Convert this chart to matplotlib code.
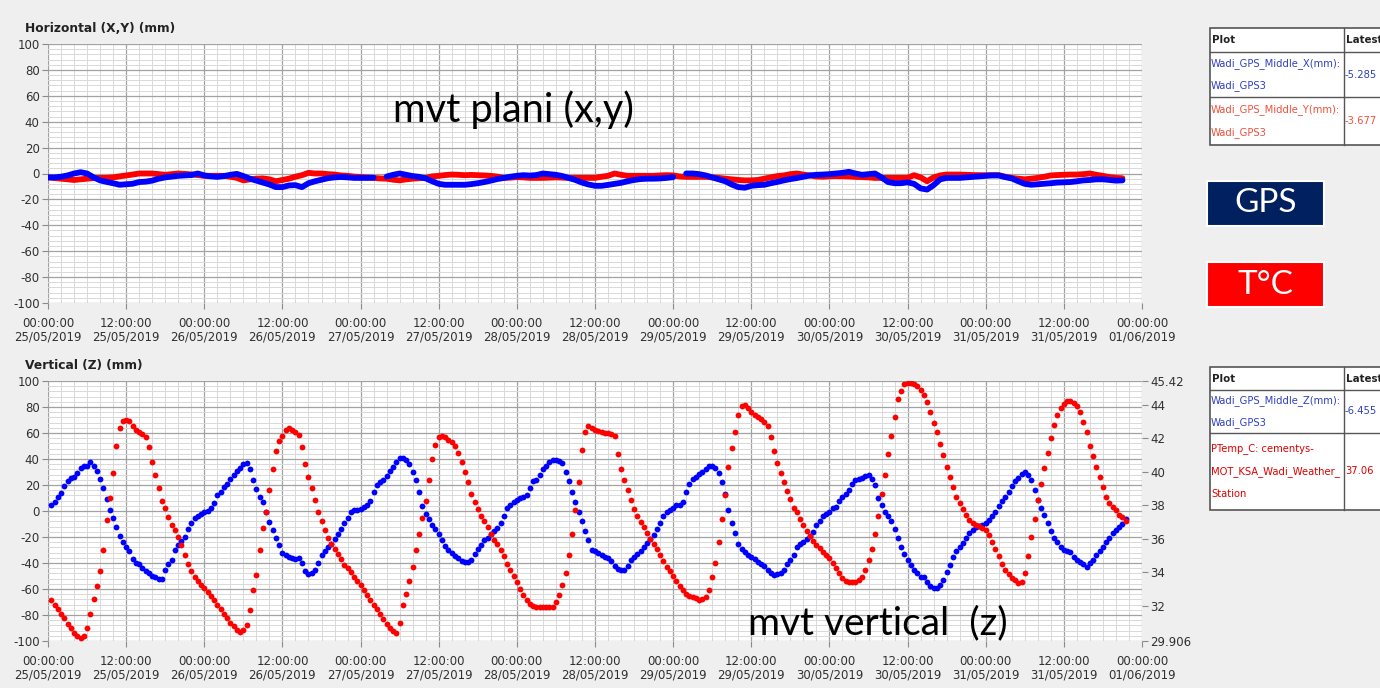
import numpy as np
import pandas as pd
import matplotlib
matplotlib.use('Agg')
import matplotlib.pyplot as plt
import matplotlib.dates as mdates
from matplotlib.ticker import MultipleLocator
from matplotlib.patches import Rectangle
from matplotlib.lines import Line2D

plt.rcParams['axes.unicode_minus'] = False
plt.rcParams['font.family'] = ['DejaVu Sans']

# ---------------- data ----------------
start_time = '2019-05-25 00:00'
end_time = '2019-06-01 00:00'

# Horizontal movement, hourly samples from 25/05 00:00 (mm)
x_mm = [
    -3, -3, -2.5, -1.5, 0, 1, 0, -3, -5.3, -6.5, -7.5, -8.7,
    -8.3, -7.9, -6.6, -6.3, -5.5, -4, -3, -2.4, -1.8, -1.5, -1.2, 0,
    -1.5, -2.2, -2.6, -2, -1, -0.3, -2, -4, -5.5, -7, -8.5, -10.5,
    -10.5, -9.2, -9, -10.5, -7.5, -6, -4.8, -3.6, -3, -2.7, -3, -3.4,
    -3.4, -3.4, -3.2, np.nan, -2.4, -1, 0, -1, -2, -2.6, -3.8, -6,
    -8, -8.7, -8.7, -8.7, -8.7, -8.2, -7.5, -6.6, -5.5, -4.3, -3.4, -2.5,
    -1.8, -1.3, -1.6, -1.2, 0, -0.5, -1, -2, -3.5, -5, -7, -8.5,
    -9.5, -9.5, -8.8, -8, -7.2, -6, -5, -4.3, -4, -4, -3.8, -3.4,
    -2.8, np.nan, 0, 0, -0.5, -1.5, -3, -4.5, -6, -8.5, -10.5, -11,
    -9.5, -9, -8.7, -7.5, -6.5, -5.3, -4.3, -3.5, -2.5, -1.5, -1, -0.8,
    -0.5, 0, 0.5, 1.3, 0, -1, -0.5, 0, -3, -6.6, -7.5, -7.5,
    -6.8, -8, -11.5, -12.4, -9, -4.5, -3.4, -3.4, -3.4, -3, -2.6, -2.2,
    -1.8, -1.5, -1.5, -2.8, -3.8, -6, -8, -8.7, -8.3, -7.9, -7.5, -7,
    -6.8, -6.6, -6, -5.3, -5, -4.5, -4.5, -5, -5.5, -5.3,
]
y_mm = [
    -3, -3.5, -4, -4.5, -5, -4.5, -4, -3.5, -3.4, -3.4, -3, -2.2,
    -1.5, -0.8, 0, 0, 0, -0.5, -1, -0.5, 0, -0.3, -0.7, -1.2,
    -1.8, -1.8, -1.8, -1.8, -2.5, -3.4, -5.3, -4.5, -4, -3.8, -4.5, -6,
    -5, -4, -2.5, -1.3, 0.5, 0, 0, -0.5, -0.8, -1.5, -1.8, -2.4,
    -2.7, -3, -3.4, -3.8, -4, -4.8, -5.3, -4.5, -4, -3.6, -3.4, -2.2,
    -1.8, -1.2, -0.8, -1, -1.3, -1.1, -1.3, -1.5, -1.8, -2.4, -3.4, -3.2,
    -2.8, -3, -3.4, -3.4, -3.4, -3.2, -3, -3.2, -3.4, -3.4, -3.4, -3.4,
    -3.4, -2.5, -1.8, 0, -1, -1.8, -1.8, -1.8, -1.8, -1.8, -1.5, -1.3,
    -1.5, -2.3, -2.6, -2.6, -2.6, -2.6, -3, -3.4, -4, -4.5, -5, -5.3,
    -5.3, -5, -4, -3, -2, -1.5, -0.5, 0, -0.8, -1.5, -2.3, -2.5,
    -2.2, -2, -2.1, -2.3, -2.6, -2.8, -3, -3.4, -3.4, -3.4, -3.4, -3.4,
    -3.4, -1.3, -3, -6, -3, -1.5, -0.8, -0.8, -0.8, -1, -1.2, -1.3,
    -1.3, -1.3, -1.3, -2.5, -3.4, -4, -4.5, -4, -3.4, -2.5, -1.5, -1.2,
    -1, -0.8, -0.8, -0.5, 0, -1, -1.8, -2.8, -3.4, -3.7,
]

# Vertical movement, 30-min samples from 25/05 00:30 (mm)
z_mm = [
    5, 7, 10.5, 14, 19, 23, 25.5, 26.5, 29, 33,
    34.5, 35, 38, 34.5, 31, 25, 18, 9, 1, -5.5,
    -12, -19, -24, -28, -31, -37, -40, -41, -44, -46,
    -48, -50, -51, -52, -52, -45, -41, -38, -30, -26,
    -23, -20, -14, -9.5, -5.5, -3.5, -2, -1, 0, 2.5,
    6, 12, 15, 18.5, 20.5, 25, 27.5, 30.5, 33, 36,
    37, 32, 24, 17, 11, 7, -1, -8.5, -14.5, -21,
    -26, -32, -34, -35, -36, -37, -36, -40, -46, -48.5,
    -47.5, -45, -40, -34, -30.5, -28, -25, -21.5, -18, -14,
    -9.5, -5, -1, 0.5, 0.5, 1.5, 3, 4.5, 8, 15,
    20, 22, 23.5, 27, 30.5, 34, 38, 40.5, 41, 39,
    36, 30, 24, 15, 4, -2, -6, -11, -13.5, -18,
    -22, -27, -30, -32, -34.5, -36.5, -38.5, -39, -39, -37.5,
    -33, -29, -26, -22.5, -20.5, -17.5, -15.5, -13, -9, -4,
    2, 5, 7, 8.5, 10, 10.5, 12, 18, 23, 24,
    28, 32, 35, 37.5, 39, 39, 38.5, 37, 30, 23,
    15, 7, -1, -8, -15.5, -22, -30, -31, -32, -33.5,
    -35, -36.5, -38.5, -42, -44.5, -45.5, -45, -42.5, -38, -35.5,
    -33, -30.5, -28, -24.5, -21.5, -18.5, -14, -9, -4, -1,
    0.5, 2.5, 4.5, 4.5, 7, 15, 21, 24.5, 26.5, 28.5,
    30, 32, 34.5, 34.5, 33, 29.5, 22, 13, 1, -9,
    -17, -25.5, -29.5, -31.5, -33.5, -35.5, -37, -39, -41, -42,
    -45, -47.5, -49, -48.5, -47.5, -45, -41, -38, -33.5, -28,
    -25.5, -24, -21.5, -19.5, -16, -11, -8, -4, -2, -0.5,
    2, 3, 7.5, 11, 13, 16.5, 20.5, 23.5, 24.5, 25.5,
    27, 27.5, 25, 20, 10, 5, -0.5, -3.5, -8, -13.5,
    -21, -28, -33, -37.5, -41.5, -45, -48, -50.5, -51, -54.5,
    -57.5, -59, -59.5, -57, -53, -47, -41.5, -35, -30.5, -28,
    -24.5, -21, -17, -14.5, -12, -11.5, -10.7, -9.5, -7, -4,
    -1, 3.5, 7.5, 11, 15, 19, 23, 25.5, 28.5, 30,
    28, 24, 16, 8.5, 2, -3, -9, -15.5, -20.5, -24,
    -27.5, -30, -30.5, -31.5, -35.5, -37.5, -39.5, -41, -43, -40,
    -37.5, -33.5, -31, -28, -24, -20.5, -17, -14.5, -12.5, -10,
    -6.5,
]

# Air temperature, 30-min samples from 25/05 00:30 (deg C)
temp_c = [
    32.35, 32.08, 31.81, 31.54, 31.26, 30.95, 30.68, 30.37, 30.18, 30.10,
    30.22, 30.68, 31.54, 32.43, 33.16, 34.09, 35.34, 37.12, 38.44, 39.91,
    41.54, 42.63, 43.02, 43.09, 43.02, 42.74, 42.51, 42.36, 42.24, 42.08,
    41.46, 40.57, 39.80, 39.02, 38.28, 37.82, 37.28, 36.85, 36.50, 36.11,
    35.65, 35.06, 34.48, 34.06, 33.75, 33.47, 33.24, 33.09, 32.85, 32.62,
    32.35, 32.08, 31.81, 31.54, 31.30, 30.99, 30.80, 30.57, 30.45, 30.57,
    30.88, 31.77, 32.93, 33.86, 35.34, 36.62, 37.62, 38.90, 40.18, 41.23,
    41.85, 42.16, 42.47, 42.59, 42.51, 42.40, 42.20, 41.46, 40.46, 39.68,
    39.02, 38.32, 37.62, 37.08, 36.54, 36.03, 35.69, 35.38, 35.10, 34.79,
    34.44, 34.25, 34.02, 33.75, 33.51, 33.24, 32.97, 32.66, 32.35, 32.08,
    31.81, 31.50, 31.19, 30.91, 30.68, 30.53, 30.37, 30.99, 32.04, 32.70,
    33.47, 34.33, 35.34, 36.27, 37.24, 38.28, 39.52, 40.77, 41.62, 42.05,
    42.16, 42.05, 41.89, 41.77, 41.54, 41.15, 40.61, 39.99, 39.37, 38.67,
    38.21, 37.78, 37.39, 37.08, 36.69, 36.31, 35.96, 35.69, 35.34, 34.95,
    34.52, 34.13, 33.78, 33.40, 33.01, 32.66, 32.35, 32.12, 31.99, 31.96,
    31.96, 31.96, 31.96, 31.92, 31.96, 32.23, 32.66, 33.24, 33.94, 35.03,
    36.27, 37.74, 39.37, 41.31, 42.40, 42.74, 42.63, 42.51, 42.43, 42.40,
    42.32, 42.29, 42.28, 42.16, 41.08, 40.15, 39.52, 38.90, 38.32, 37.78,
    37.35, 37.00, 36.69, 36.38, 36.00, 35.69, 35.38, 35.06, 34.68, 34.33,
    34.06, 33.78, 33.47, 33.20, 32.93, 32.70, 32.57, 32.52, 32.45, 32.37,
    32.39, 32.54, 32.93, 33.71, 34.56, 35.80, 37.20, 38.63, 40.26, 41.43,
    42.40, 43.40, 43.91, 43.99, 43.79, 43.56, 43.40, 43.30, 43.17, 42.98,
    42.71, 42.08, 41.23, 40.53, 39.95, 39.37, 38.83, 38.36, 37.82, 37.62,
    37.20, 36.81, 36.46, 36.15, 35.88, 35.61, 35.45, 35.22, 35.03, 34.83,
    34.56, 34.25, 33.94, 33.67, 33.51, 33.42, 33.42, 33.44, 33.55, 33.75,
    34.17, 34.75, 35.41, 36.27, 37.39, 38.67, 39.84, 41.04, 42.16, 43.25,
    44.33, 44.84, 45.23, 45.32, 45.30, 45.23, 45.11, 44.88, 44.57, 44.18,
    43.60, 42.94, 42.36, 41.67, 40.98, 40.26, 39.68, 39.10, 38.52, 38.13,
    37.78, 37.41, 37.12, 36.93, 36.85, 36.77, 36.65, 36.50, 36.23, 35.80,
    35.41, 34.95, 34.48, 34.17, 33.90, 33.65, 33.54, 33.37, 33.44, 33.94,
    34.95, 36.11, 37.20, 38.32, 39.29, 40.22, 41.12, 42.01, 42.78, 43.40,
    43.79, 44.02, 44.20, 44.24, 44.13, 43.95, 43.60, 42.98, 42.36, 41.54,
    40.92, 40.26, 39.68, 39.10, 38.52, 38.13, 37.90, 37.70, 37.41, 37.28,
    37.06,
]

temp_ticks = [29.906, 32, 34, 36, 38, 40, 42, 44, 45.42]
temp_tick_labels = ['29.906', '32', '34', '36', '38', '40', '42', '44', '45.42']

top_title = 'Horizontal (X,Y) (mm)'
bottom_title = 'Vertical (Z) (mm)'
latest_x, latest_y, latest_z, latest_t = '-5.285', '-3.677', '-6.455', '37.06'

# ---------------- figure ----------------
W, H = 1380, 688
fig = plt.figure(figsize=(W / 100, H / 100), dpi=100, facecolor='#efefef')

def fx(px):
    return px / W

def fy(py):
    return 1 - py / H

t0 = pd.Timestamp(start_time)
t1 = pd.Timestamp(end_time)
t_top = t0 + pd.to_timedelta(np.arange(len(x_mm)), unit='h')
t_bot = t0 + pd.Timedelta(minutes=30) + pd.to_timedelta(np.arange(len(z_mm)) * 30, unit='min')
t_tmp = t0 + pd.Timedelta(minutes=30) + pd.to_timedelta(np.arange(len(temp_c)) * 30, unit='min')

LBL = '#303030'

def style(ax):
    ax.set_facecolor('white')
    ax.set_xlim(t0, t1)
    ax.set_ylim(-100, 100)
    ax.xaxis.set_major_locator(mdates.HourLocator(byhour=[0, 12]))
    ax.xaxis.set_minor_locator(mdates.HourLocator(byhour=list(range(0, 24, 2))))
    ax.xaxis.set_major_formatter(mdates.DateFormatter('%H:%M:%S\n%d/%m/%Y'))
    ax.yaxis.set_major_locator(MultipleLocator(20))
    ax.yaxis.set_minor_locator(MultipleLocator(4))
    ax.grid(which='major', color='#a2a2a2', lw=0.9)
    ax.grid(which='minor', color='#d9d9d9', lw=0.7)
    ax.set_axisbelow(True)
    for s in ax.spines.values():
        s.set_visible(False)
    ax.tick_params(which='major', length=4, width=0.8, color='#8a8a8a',
                   labelsize=8.5, labelcolor=LBL, pad=2)
    ax.tick_params(axis='x', which='major', pad=6)
    ax.tick_params(which='minor', length=0)
    for lab in ax.get_xticklabels():
        lab.set_linespacing(1.1)

ax1 = fig.add_axes([fx(48), fy(303), (1142 - 48) / W, (303 - 44) / H])
style(ax1)
ax1.plot(t_top, y_mm, color='#ff0000', lw=4.2, solid_capstyle='round', solid_joinstyle='round')
ax1.plot(t_top, x_mm, color='#0000ff', lw=4.2, solid_capstyle='round', solid_joinstyle='round')

ax2 = fig.add_axes([fx(48), fy(641), (1142 - 48) / W, (641 - 381) / H])
style(ax2)
ax2.plot(t_bot, z_mm, 'o', ms=4.2, color='#0000ff', mec='none')
ax2t = ax2.twinx()
ax2t.set_ylim(29.906, 45.42)
ax2t.set_yticks(temp_ticks)
ax2t.set_yticklabels(temp_tick_labels)
for s in ax2t.spines.values():
    s.set_visible(False)
ax2t.tick_params(length=4, width=0.8, color='#8a8a8a', labelsize=8.5, labelcolor=LBL, pad=2)
ax2t.plot(t_tmp, temp_c, 'o', ms=4.2, color='#ff0000', mec='none')

# titles
fig.text(fx(25), fy(29), top_title, fontsize=8.8, weight='bold', color='#222222', va='center', ha='left')
fig.text(fx(25), fy(365), bottom_title, fontsize=8.8, weight='bold', color='#222222', va='center', ha='left')

# annotations
fig.text(fx(393), fy(110), 'mvt plani (x,y)', fontsize=28.5, family='Lato', va='center', ha='left', color='black')
fig.text(fx(748), fy(623), 'mvt vertical  (z)', fontsize=28, family='Lato', va='center', ha='left', color='black')

# coloured boxes
def box(x0, y0, x1, y1, fc, label):
    fig.add_artist(Rectangle((fx(x0), fy(y1)), (x1 - x0) / W, (y1 - y0) / H,
                             transform=fig.transFigure, facecolor=fc,
                             edgecolor='white', lw=1.5))
    fig.text(fx((x0 + x1) / 2), fy((y0 + y1) / 2), label, color='white', fontsize=24,
             family='Lato', ha='center', va='center')

box(1207, 181, 1324, 226, '#002060', 'GPS')
box(1207, 262, 1324, 307, '#ff0000', 'T°C')

# legend tables
def hline(y, x0, x1):
    fig.add_artist(Line2D([fx(x0), fx(x1)], [fy(y), fy(y)], transform=fig.transFigure,
                          color='#555555', lw=1.0))

def vline(x, y0, y1):
    fig.add_artist(Line2D([fx(x), fx(x)], [fy(y0), fy(y1)], transform=fig.transFigure,
                          color='#555555', lw=1.0))

def table(top, rows_y, rows):
    bottom = rows_y[-1]
    fig.add_artist(Rectangle((fx(1210), fy(bottom)), (1390 - 1210) / W, (bottom - top) / H,
                             transform=fig.transFigure, facecolor='white',
                             edgecolor='#555555', lw=1.2))
    for y in rows_y[:-1]:
        hline(y, 1210, 1390)
    vline(1344, top, bottom)
    hy = (top + rows_y[0]) / 2
    fig.text(fx(1212), fy(hy), 'Plot', fontsize=7.4, weight='bold', color='#222222', va='center')
    fig.text(fx(1346), fy(hy), 'Latest', fontsize=7.4, weight='bold', color='#222222', va='center')
    for (lines, val, col), (ya, yb) in zip(rows, zip(rows_y[:-1], rows_y[1:])):
        n = len(lines)
        step = 22.5
        mid = (ya + yb) / 2
        for k, ln in enumerate(lines):
            yy = mid + (k - (n - 1) / 2) * step
            fig.text(fx(1211), fy(yy), ln, fontsize=7.2, color=col, va='center')
        fig.text(fx(1345), fy(mid), val, fontsize=7.2, color=col, va='center')

table(28, [52, 97, 145], [
    (['Wadi_GPS_Middle_X(mm):', 'Wadi_GPS3'], latest_x, '#3040c0'),
    (['Wadi_GPS_Middle_Y(mm):', 'Wadi_GPS3'], latest_y, '#f0503a'),
])
table(367, [390, 433, 510], [
    (['Wadi_GPS_Middle_Z(mm):', 'Wadi_GPS3'], latest_z, '#3040c0'),
    (['PTemp_C: cementys-', 'MOT_KSA_Wadi_Weather_', 'Station'], latest_t, '#e00000'),
])

fig.savefig('out.png', dpi=100, facecolor=fig.get_facecolor())
